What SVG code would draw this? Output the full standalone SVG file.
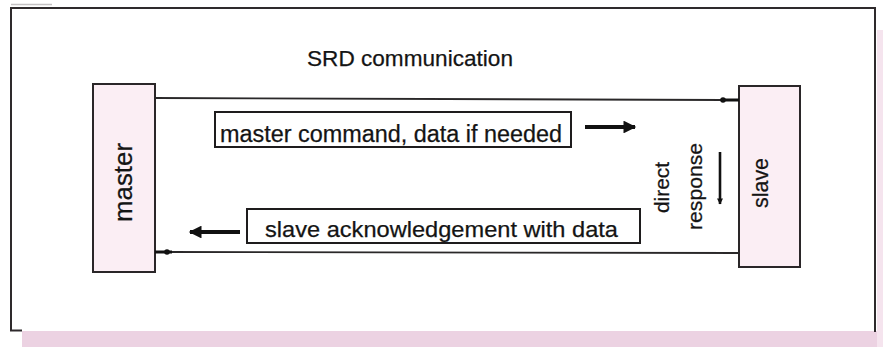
<svg xmlns="http://www.w3.org/2000/svg" width="883" height="347" viewBox="0 0 883 347">
  <style>
    .frame { fill: none; stroke: #2e2a2c; stroke-width: 2; }
    .unit { fill: #fbeef4; stroke: #2a2628; stroke-width: 2; }
    .msg { fill: #ffffff; stroke: #1e1c1d; stroke-width: 2; }
    .wire { fill: none; stroke: #2a2829; stroke-width: 1.8; }
    .txt { font-family: "Liberation Sans", Arial, sans-serif; fill: #141414; stroke: #141414; stroke-width: 0.25; }
  </style>
  <defs>
    <marker id="head" viewBox="0 0 10 10" refX="9" refY="5" markerWidth="6" markerHeight="3.2" orient="auto" markerUnits="strokeWidth">
      <path d="M0,0 L10,5 L0,10 Z" fill="#111"/>
    </marker>
    <marker id="headDown" viewBox="0 0 10 10" refX="9" refY="5" markerWidth="6" markerHeight="2.4" orient="auto" markerUnits="strokeWidth">
      <path d="M0,0 L10,5 L0,10 Z" fill="#111"/>
    </marker>
  </defs>

  <rect width="883" height="347" fill="#ffffff"/>

  <!-- page tint along bottom and right margin -->
  <rect x="22" y="331" width="861" height="16" fill="#ecd2e2"/>
  <rect x="877" y="30" width="6" height="317" fill="#f5e4ee"/>

  <!-- outer frame (open at the bottom) -->
  <line x1="11" y1="4.5" x2="52" y2="4.5" stroke="#c4c1c2" stroke-width="1.5"/>
  <path class="frame" d="M11,331 L11,8 L875,8 L875,332"/>
  <line x1="10" y1="330.5" x2="22" y2="330.5" stroke="#2e2a2c" stroke-width="2"/>

  <text class="txt" x="307" y="66" font-size="22.6" fill="#333" stroke="#333" textLength="206" lengthAdjust="spacingAndGlyphs">SRD communication</text>

  <g id="master">
    <rect class="unit" x="93" y="84" width="62" height="188"/>
    <text class="txt" transform="translate(132,222) rotate(-90)" font-size="26" textLength="79" lengthAdjust="spacingAndGlyphs">master</text>
  </g>

  <g id="slave">
    <rect class="unit" x="739" y="86" width="61" height="181"/>
    <text class="txt" transform="translate(768,208) rotate(-90)" font-size="22" textLength="50" lengthAdjust="spacingAndGlyphs">slave</text>
  </g>

  <g id="connectors">
    <!-- command line master -> slave -->
    <line class="wire" x1="155" y1="98" x2="723" y2="100"/>
    <line x1="723" y1="100" x2="739" y2="100" stroke="#111" stroke-width="3"/>
    <circle cx="723" cy="100" r="2.8" fill="#111"/>
    <!-- response line slave -> master -->
    <line class="wire" x1="739" y1="253" x2="172" y2="252"/>
    <line x1="155" y1="252" x2="172" y2="252" stroke="#111" stroke-width="3"/>
    <circle cx="167" cy="252" r="2.8" fill="#111"/>
    <!-- direction arrows -->
    <line x1="585" y1="127" x2="635" y2="127" stroke="#111" stroke-width="4" marker-end="url(#head)"/>
    <line x1="240" y1="232" x2="190" y2="232" stroke="#111" stroke-width="4" marker-end="url(#head)"/>
    <line x1="720" y1="152" x2="720" y2="204" stroke="#111" stroke-width="2.6" marker-end="url(#headDown)"/>
  </g>

  <g id="command">
    <rect class="msg" x="215" y="112" width="356" height="35"/>
    <text class="txt" x="220" y="142" font-size="23" textLength="342" lengthAdjust="spacingAndGlyphs">master command, data if needed</text>
  </g>

  <g id="acknowledgement">
    <rect class="msg" x="247" y="209" width="393" height="34"/>
    <text class="txt" x="265" y="237" font-size="22.5" textLength="353" lengthAdjust="spacingAndGlyphs">slave acknowledgement with data</text>
  </g>

  <g id="response-label">
    <text class="txt" transform="translate(669,213) rotate(-90)" font-size="21" textLength="51" lengthAdjust="spacingAndGlyphs">direct</text>
    <text class="txt" transform="translate(702,230) rotate(-90)" font-size="21" textLength="87" lengthAdjust="spacingAndGlyphs">response</text>
  </g>
</svg>
